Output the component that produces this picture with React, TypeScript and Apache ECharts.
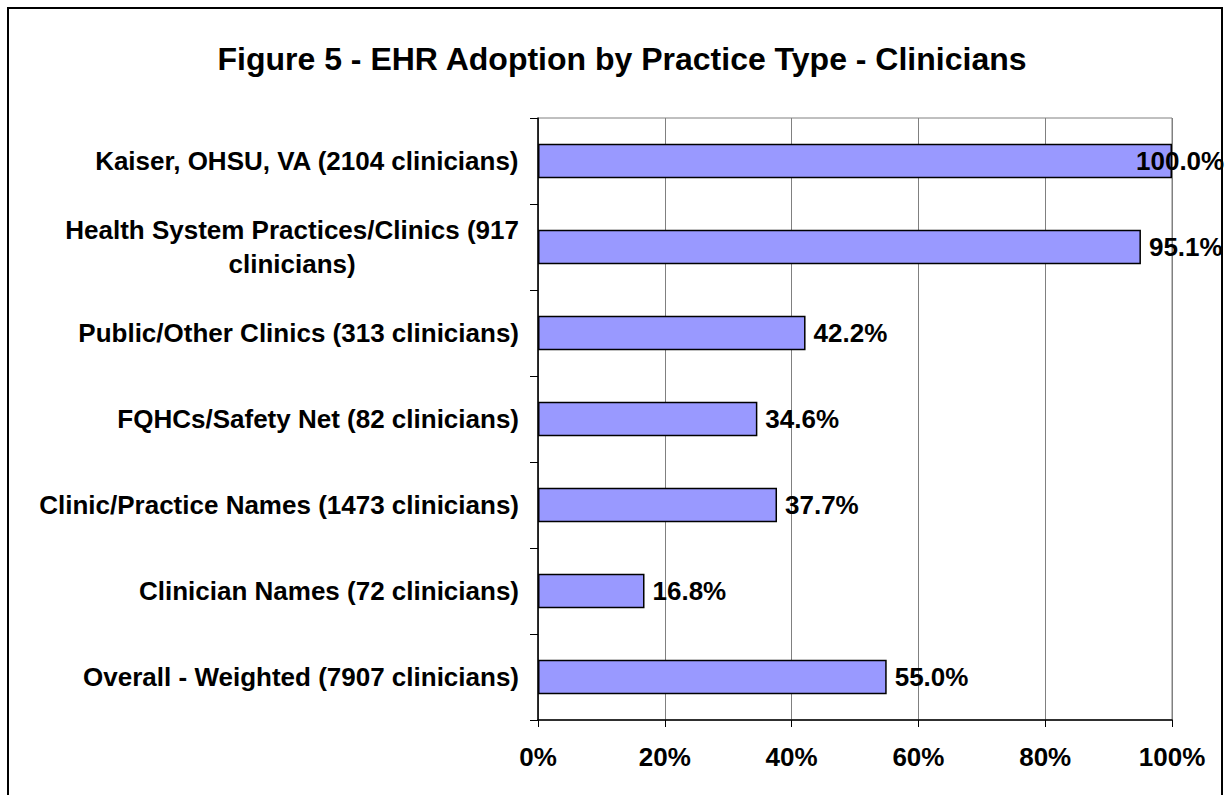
import React, { useEffect, useRef } from "react";
import * as echarts from "echarts";

const categories = [
  "Kaiser, OHSU, VA (2104 clinicians)",
  "Health System Practices/Clinics (917\nclinicians)",
  "Public/Other Clinics (313 clinicians)",
  "FQHCs/Safety Net (82 clinicians)",
  "Clinic/Practice Names (1473 clinicians)",
  "Clinician Names (72 clinicians)",
  "Overall - Weighted (7907 clinicians)",
];
const values = [100.0, 95.1, 42.2, 34.6, 37.7, 16.8, 55.0];
const xTicks = [0, 20, 40, 60, 80, 100];
const title = "Figure 5 - EHR Adoption by Practice Type - Clinicians";

export default function App() {
  const ref = useRef<HTMLDivElement>(null);
  useEffect(() => {
    document.body.style.margin = "0";
    const chart = echarts.init(ref.current!, null, { renderer: "svg" });
    const font = "'Liberation Sans', Arial, sans-serif";
    const fs = 26;
    chart.setOption({
      animation: false,
      backgroundColor: "#ffffff",
      title: {
        text: title,
        left: 617,
        textAlign: "center",
        top: 38,
        textStyle: { fontFamily: font, fontSize: 32, fontWeight: "bold", color: "#000" },
      },
      graphic: [
        {
          type: "rect",
          shape: { x: 8, y: 8, width: 1214, height: 800 },
          style: { fill: "none", stroke: "#000", lineWidth: 2 },
          silent: true,
        },
      ],
      grid: {
        left: 538,
        top: 118,
        right: 53,
        bottom: 75,
        show: true,
        borderColor: "#808080",
        borderWidth: 1,
      },
      xAxis: {
        type: "value",
        min: 0,
        max: 100,
        interval: 20,
        axisLine: { show: true, lineStyle: { color: "#000", width: 1.5 } },
        axisTick: { show: true, length: 7, lineStyle: { color: "#000" } },
        splitLine: { show: true, lineStyle: { color: "#808080", width: 1 } },
        axisLabel: {
          margin: 24,
          fontFamily: font,
          fontSize: fs,
          fontWeight: "bold",
          color: "#000",
          formatter: (v: number) => (xTicks.includes(v) ? v + "%" : ""),
        },
      },
      yAxis: {
        type: "category",
        data: categories,
        inverse: true,
        axisLine: { show: true, lineStyle: { color: "#000", width: 1.5 } },
        axisTick: { show: true, length: 8, lineStyle: { color: "#000" } },
        axisLabel: {
          margin: 19,
          fontFamily: font,
          fontSize: fs,
          fontWeight: "bold",
          color: "#000",
          lineHeight: 34,
          formatter: (v: string) =>
            v
              .split("\n")
              .map((l) => "{c|" + l + "}")
              .join("\n"),
          rich: {
            c: {
              align: "center",
              fontFamily: font,
              fontSize: fs,
              fontWeight: "bold",
              color: "#000",
              lineHeight: 34,
            },
          },
        },
      },
      series: [
        {
          type: "bar",
          barWidth: "40%",
          data: values.map((v, i) =>
            i === 0 ? { value: v, label: { offset: [-44, 0] } } : v
          ),
          itemStyle: { color: "#9999FF", borderColor: "#000", borderWidth: 1.5 },
          label: {
            show: true,
            position: "right",
            distance: 8,
            fontFamily: font,
            fontSize: fs,
            fontWeight: "bold",
            color: "#000",
            formatter: (p: any) => p.value.toFixed(1) + "%",
          },
        },
      ],
    });
    return () => chart.dispose();
  }, []);
  return <div ref={ref} style={{ width: 1225, height: 795 }} />;
}
